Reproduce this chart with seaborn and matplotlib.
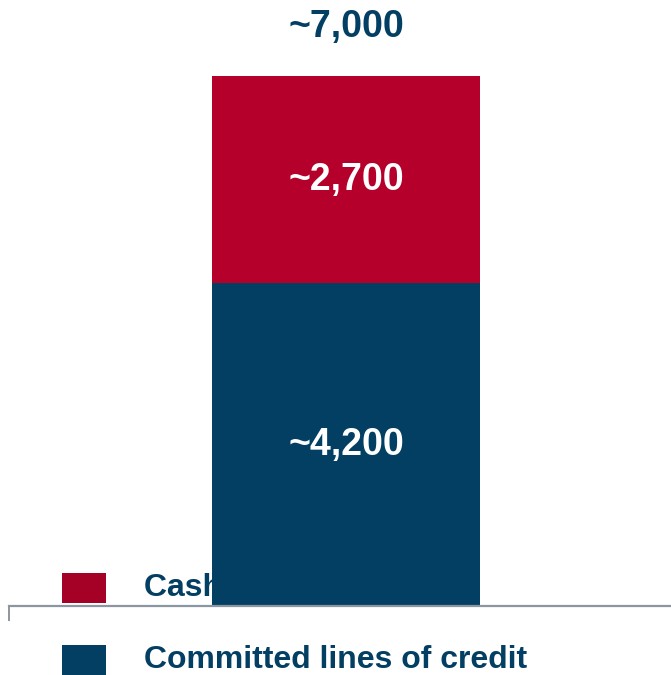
import matplotlib
matplotlib.use("Agg")
import matplotlib.pyplot as plt
from matplotlib.patches import Rectangle
import seaborn as sns
import pandas as pd

# Liquidity components (approximate, in millions)
segments = ["Committed lines of credit", "Cash on hand"]
values = [4200, 2700]
value_labels = ["~4,200", "~2,700"]
total_label = "~7,000"
bar_name = ["Liquidity"]

BLUE = "#033F63"
RED = "#B4002A"
RED_KEY = "#A50026"
AXIS_GREY = "#8C96A0"

sns.set_theme(style="white")
plt.rcParams["font.family"] = ["Liberation Sans", "DejaVu Sans"]

fig = plt.figure(figsize=(6.71, 6.75), dpi=100)

# Background layer in pixel coordinates for the legend keys
bg = fig.add_axes([0, 0, 1, 1], zorder=0)
bg.set_xlim(0, 671)
bg.set_ylim(675, 0)
bg.axis("off")

legend_rows = [(RED_KEY, segments[1], 588), (BLUE, segments[0], 660)]
for color, name, yc in legend_rows:
    bg.add_patch(Rectangle((62, yc - 15), 44, 30, color=color, lw=0))
    bg.text(144, yc, name, color=BLUE, fontsize=23, fontweight="bold",
            ha="left", va="center")

# Main chart layer, drawn over the legend
ax = fig.add_axes([9 / 671, 69 / 675, 662 / 671, 606 / 675], zorder=1)
ax.patch.set_alpha(0)

total = sum(values)
df_total = pd.DataFrame({"x": bar_name, "y": [total]})
df_base = pd.DataFrame({"x": bar_name, "y": [values[0]]})
sns.barplot(data=df_total, x="x", y="y", color=RED, saturation=1,
            width=0.8, ax=ax, linewidth=0)
sns.barplot(data=df_base, x="x", y="y", color=BLUE, saturation=1,
            width=0.8, ax=ax, linewidth=0)

ax.set_xlim(-1.006, 0.970)
ax.set_ylim(0, total * 606 / 530)

# Segment value labels
bottom = 0
for v, lab in zip(values, value_labels):
    ax.text(0, bottom + v / 2, lab, color="white", fontsize=27,
            fontweight="bold", ha="center", va="center")
    bottom += v

ax.annotate(total_label, xy=(0, total), xytext=(0, 35),
            textcoords="offset points", ha="center", va="center",
            color=BLUE, fontsize=27, fontweight="bold")

for side in ["top", "right", "left"]:
    ax.spines[side].set_visible(False)
ax.spines["bottom"].set_color(AXIS_GREY)
ax.spines["bottom"].set_linewidth(1.6)
ax.set_yticks([])
ax.set_xticks([-1.006])
ax.set_xticklabels([""])
ax.tick_params(axis="x", direction="out", length=11, width=1.4,
               color=AXIS_GREY, bottom=True)
ax.set_xlabel("")
ax.set_ylabel("")

fig.savefig("out.png", dpi=100)
